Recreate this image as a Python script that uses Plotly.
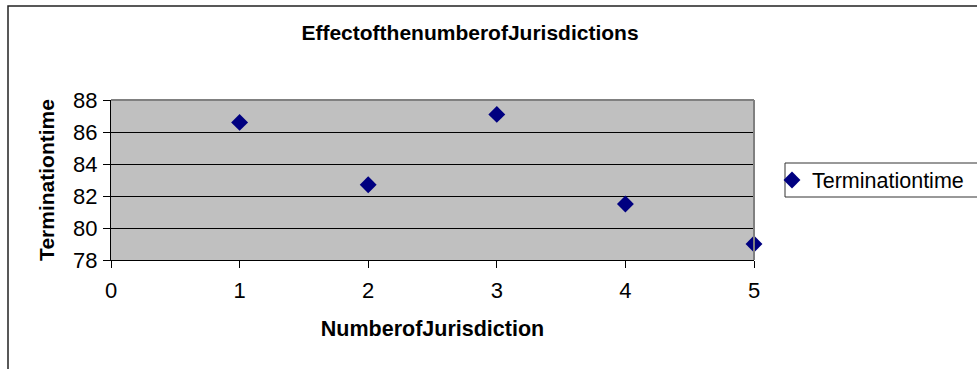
import plotly.graph_objects as go

# Number of jurisdictions vs. termination time
jurisdictions = [1, 2, 3, 4, 5]
termination_time = [86.6, 82.7, 87.1, 81.5, 79.0]
x_ticks = [0, 1, 2, 3, 4, 5]
y_ticks = [78, 80, 82, 84, 86, 88]

W, H = 977, 369
ML, MR, MT, MB = 111, 223, 100, 109
PW, PH = W - ML - MR, H - MT - MB


def px_x(p):
    return (p - ML) / PW


def px_y(p):
    return (H - MB - p) / PH


FONT = "Liberation Sans, Arial, sans-serif"

fig = go.Figure()
fig.add_trace(go.Scatter(
    x=jurisdictions,
    y=termination_time,
    mode="markers",
    name="Terminationtime",
    marker=dict(symbol="diamond", size=13, color="#000080", line=dict(width=0)),
    cliponaxis=False,
))

fig.update_layout(
    width=W,
    height=H,
    margin=dict(l=ML, r=MR, t=MT, b=MB, autoexpand=False),
    paper_bgcolor="white",
    plot_bgcolor="#C0C0C0",
    font=dict(family=FONT, size=21, color="black"),
    title=dict(
        text="<b>EffectofthenumberofJurisdictions</b>",
        x=470 / W,
        xanchor="center",
        y=1 - 33 / H,
        yanchor="middle",
        font=dict(family=FONT, size=21, color="black"),
    ),
    xaxis=dict(
        range=[0, 5],
        tickvals=x_ticks,
        ticks="outside",
        ticklen=7,
        tickcolor="black",
        ticklabelstandoff=4,
        showline=True,
        linecolor="black",
        linewidth=1,
        showgrid=False,
        zeroline=False,
        tickfont=dict(size=22),
        title=dict(text="<b>NumberofJurisdiction</b>", standoff=18,
                   font=dict(size=21.5)),
    ),
    yaxis=dict(
        range=[78, 88],
        tickvals=y_ticks,
        ticks="outside",
        ticklen=7,
        tickcolor="black",
        ticklabelstandoff=1,
        showline=True,
        linecolor="black",
        linewidth=1,
        showgrid=True,
        gridcolor="black",
        gridwidth=1,
        zeroline=False,
        tickfont=dict(size=22),
        title=dict(text="<b>Terminationtime</b>", standoff=12,
                   font=dict(size=21)),
    ),
    legend=dict(
        x=px_x(772),
        xanchor="left",
        y=0.5,
        yanchor="middle",
        bgcolor="rgba(0,0,0,0)",
        borderwidth=0,
        font=dict(size=21.5),
    ),
    showlegend=True,
    shapes=[
        # gray frame on the top and right of the plotting area
        dict(type="line", xref="paper", yref="paper", x0=0, x1=1, y0=1, y1=1,
             line=dict(color="#808080", width=2), layer="above"),
        dict(type="line", xref="paper", yref="paper", x0=1, x1=1, y0=0, y1=1,
             line=dict(color="#808080", width=2), layer="above"),
        # legend box
        dict(type="rect", xref="paper", yref="paper",
             x0=px_x(785), x1=px_x(990), y0=px_y(197), y1=px_y(163),
             line=dict(color="#333333", width=1), fillcolor="rgba(0,0,0,0)",
             layer="above"),
        # chart area border
        dict(type="rect", xref="paper", yref="paper",
             x0=px_x(8), x1=px_x(1000), y0=px_y(400), y1=px_y(6),
             line=dict(color="#222222", width=1.5), fillcolor="rgba(0,0,0,0)",
             layer="above"),
    ],
)

fig.write_html("out.html")
